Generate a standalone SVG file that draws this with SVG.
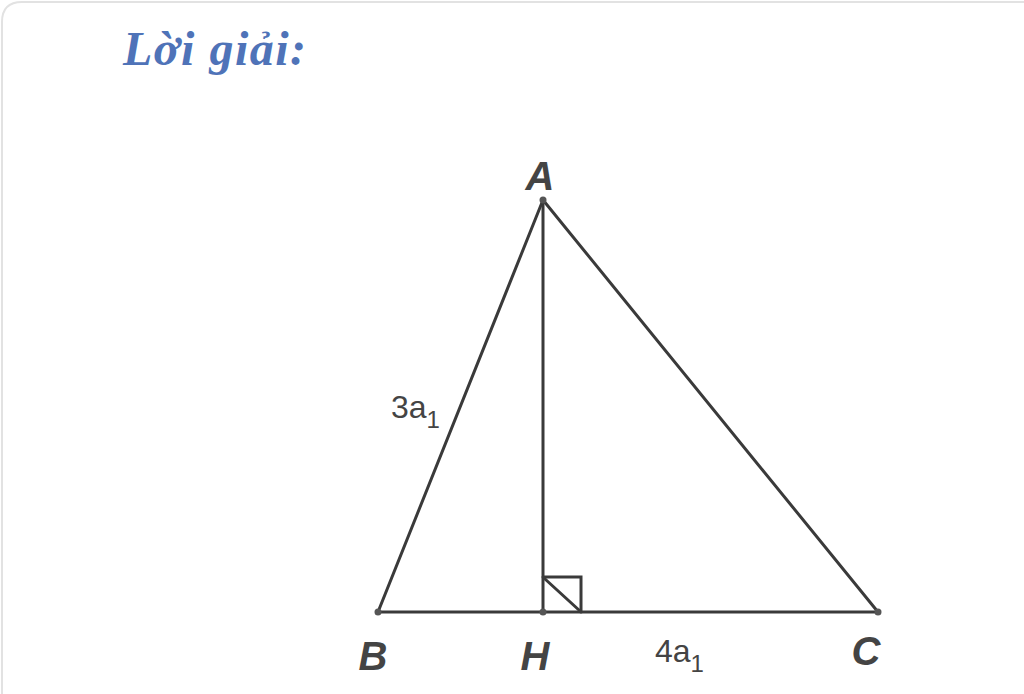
<svg xmlns="http://www.w3.org/2000/svg" width="1024" height="694" viewBox="0 0 1024 694">
<style>
.edge{stroke:#3a3a3a;stroke-width:3;fill:none;stroke-linecap:round}
.pt{fill:#555}
.lbl{font-family:"Liberation Sans",Arial,sans-serif;font-weight:bold;font-style:italic;font-size:40px;fill:#444}
.len{font-family:"Liberation Sans",Arial,sans-serif;font-size:32px;fill:#444}
.title{font-family:"Liberation Serif","Times New Roman",serif;font-weight:bold;font-style:italic;font-size:48px;fill:#4f73b8;letter-spacing:1.5px}
</style>
<rect x="0" y="0" width="1024" height="694" fill="#ffffff"/>
<path d="M2,694 V22 Q2,2 22,2 H1024" fill="none" stroke="#e2e2e2" stroke-width="2"/>
<text class="title" x="123" y="65">Lời giải:</text>
<g id="connectors">
<line class="edge" x1="543" y1="200" x2="378" y2="612"/>
<line class="edge" x1="543" y1="200" x2="878" y2="612"/>
<line class="edge" x1="543" y1="200" x2="543" y2="612"/>
<line class="edge" x1="378" y1="612" x2="878" y2="612"/>
<polyline class="edge" points="543,577 581,577 581,612" stroke-width="2.5"/>
<line class="edge" x1="545" y1="579" x2="580" y2="611" stroke-width="2.5"/>
</g>
<g id="node-A"><circle class="pt" cx="543" cy="200" r="3.5"/><text class="lbl" x="540" y="190" text-anchor="middle">A</text></g>
<g id="node-B"><circle class="pt" cx="378" cy="612" r="3.5"/><text class="lbl" x="373" y="670" text-anchor="middle">B</text></g>
<g id="node-H"><circle class="pt" cx="543" cy="612" r="3.5"/><text class="lbl" x="535" y="670" text-anchor="middle">H</text></g>
<g id="node-C"><circle class="pt" cx="878" cy="612" r="3.5"/><text class="lbl" x="866" y="665" text-anchor="middle">C</text></g>
<g id="label-3a1"><text class="len" x="391" y="418">3a<tspan font-size="24" dy="10">1</tspan></text></g>
<g id="label-4a1"><text class="len" x="655" y="662">4a<tspan font-size="24" dy="10">1</tspan></text></g>
</svg>
